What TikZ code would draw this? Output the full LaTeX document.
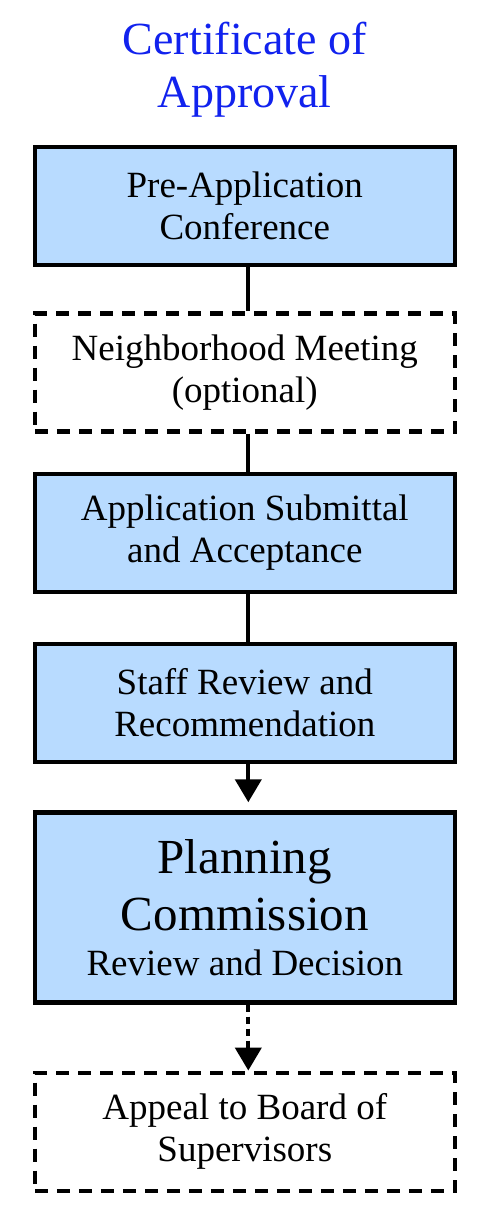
\documentclass[tikz,border=0pt]{standalone}
\usepackage{fontspec}
\setmainfont{Liberation Serif}
\usetikzlibrary{arrows.meta, positioning}
\definecolor{stepblue}{RGB}{184,219,255}
\definecolor{titleblue}{RGB}{17,34,238}
\tikzset{
  stepbox/.style={draw, line width=4.3pt, fill=stepblue, minimum width=420pt, minimum height=118pt, align=center, inner sep=0pt, font=\fontsize{37}{42}\selectfont},
  optbox/.style={stepbox, fill=none, dash pattern=on 13pt off 9pt},
  link/.style={line width=4.3pt},
  flow/.style={link, -{Triangle[length=23pt,width=26pt]}},
}

\begin{document}
\begin{tikzpicture}
\useasboundingbox (0pt,0pt) rectangle (485pt,-1227pt);
\node at (244.8pt,-206.2pt) [stepbox] (preapp) {Pre-Application\\Conference};
\node [optbox, below=44pt of preapp] (meeting) {Neighborhood Meeting\\(optional)};
\node [stepbox, below=38pt of meeting] (submittal) {Application Submittal\\and Acceptance};
\node [stepbox, below=48pt of submittal] (staffrev) {Staff Review and\\Recommendation};
\node [stepbox, minimum height=190pt, below=46pt of staffrev] (commission) {{\fontsize{49}{59}\selectfont Planning}\\[13pt]{\fontsize{49}{59}\selectfont Commission}\\[3pt]Review and Decision};
\node [optbox, below=66pt of commission] (appeal) {Appeal to Board of\\Supervisors};
\node [above=28pt of preapp, inner sep=0pt, align=center, text=titleblue, font=\fontsize{46}{53}\selectfont] (title) {Certificate of\\Approval};
\draw [link] ([xshift=3.5pt]preapp.south) -- ([xshift=3.5pt]meeting.north);
\draw [link] ([xshift=3.5pt]meeting.south) -- ([xshift=3.5pt]submittal.north);
\draw [link] ([xshift=3.5pt]submittal.south) -- ([xshift=3.5pt]staffrev.north);
\draw [flow, shorten >=8pt] ([xshift=3.5pt]staffrev.south) -- ([xshift=3.5pt]commission.north);
\draw [flow, dash pattern=on 7pt off 5pt] ([xshift=3.5pt]commission.south) -- ([xshift=3.5pt]appeal.north);
\end{tikzpicture}
\end{document}
